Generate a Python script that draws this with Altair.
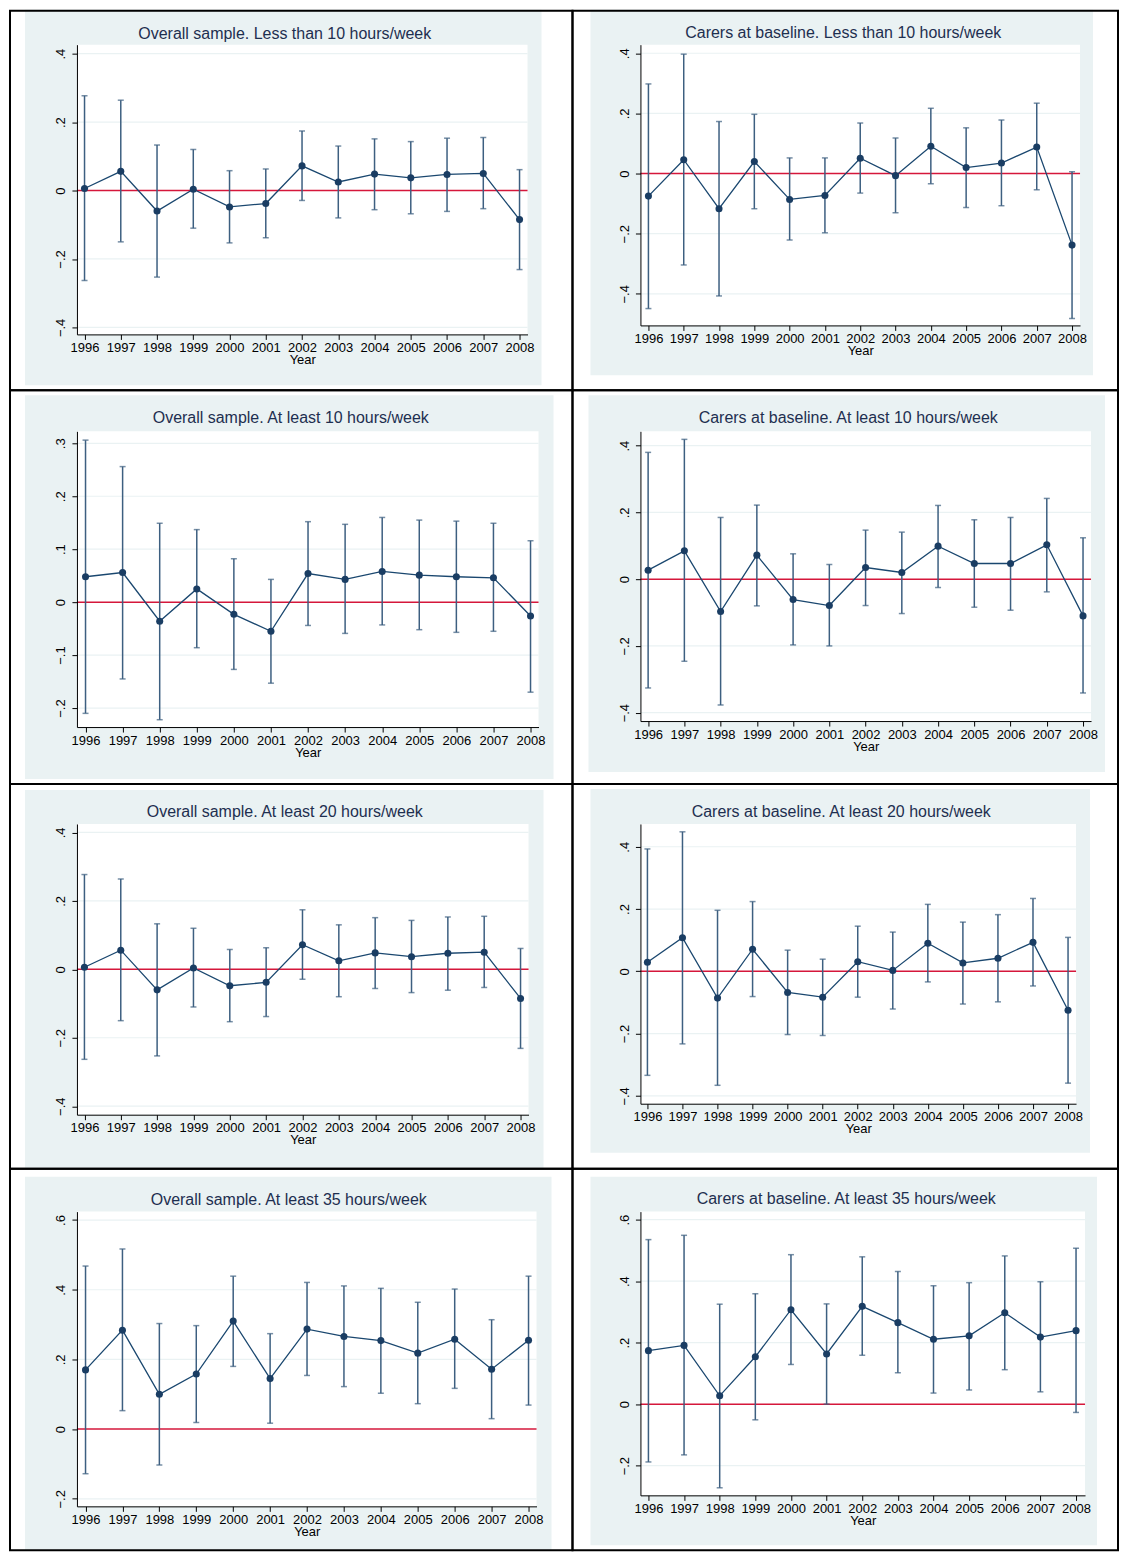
import altair as alt
import pandas as pd

years = list(range(1996, 2009))

# point estimates and 95% bounds
p1_est = [0.006, 0.056, -0.060, 0.004, -0.048, -0.038, 0.072, 0.025, 0.048, 0.037, 0.047, 0.050, -0.085]
p1_hi = [0.277, 0.264, 0.133, 0.120, 0.058, 0.063, 0.174, 0.130, 0.151, 0.143, 0.153, 0.155, 0.061]
p1_lo = [-0.263, -0.150, -0.253, -0.110, -0.153, -0.138, -0.029, -0.080, -0.056, -0.068, -0.061, -0.053, -0.231]

p2_est = [-0.075, 0.046, -0.117, 0.040, -0.086, -0.073, 0.051, -0.007, 0.091, 0.020, 0.035, 0.088, -0.238]
p2_hi = [0.298, 0.397, 0.173, 0.197, 0.052, 0.052, 0.168, 0.118, 0.217, 0.152, 0.178, 0.234, 0.006]
p2_lo = [-0.449, -0.304, -0.407, -0.117, -0.221, -0.197, -0.065, -0.130, -0.034, -0.113, -0.107, -0.054, -0.482]

p3_est = [0.048, 0.056, -0.036, 0.025, -0.023, -0.055, 0.054, 0.043, 0.058, 0.051, 0.048, 0.046, -0.026]
p3_hi = [0.306, 0.256, 0.149, 0.137, 0.082, 0.043, 0.152, 0.147, 0.160, 0.155, 0.153, 0.149, 0.116]
p3_lo = [-0.210, -0.145, -0.222, -0.086, -0.127, -0.153, -0.044, -0.059, -0.043, -0.052, -0.057, -0.055, -0.170]

p4_est = [0.027, 0.085, -0.097, 0.072, -0.061, -0.079, 0.035, 0.020, 0.099, 0.047, 0.047, 0.103, -0.110]
p4_hi = [0.380, 0.419, 0.185, 0.222, 0.076, 0.044, 0.147, 0.141, 0.221, 0.178, 0.185, 0.242, 0.124]
p4_lo = [-0.326, -0.246, -0.377, -0.080, -0.197, -0.200, -0.079, -0.103, -0.025, -0.084, -0.093, -0.038, -0.341]

p5_est = p1_est
p5_hi = p1_hi
p5_lo = p1_lo

p6_est = [0.029, 0.108, -0.086, 0.071, -0.068, -0.083, 0.031, 0.003, 0.090, 0.027, 0.042, 0.093, -0.125]
p6_hi = [0.393, 0.448, 0.196, 0.224, 0.068, 0.039, 0.145, 0.126, 0.215, 0.158, 0.182, 0.234, 0.109]
p6_lo = [-0.334, -0.233, -0.366, -0.081, -0.203, -0.206, -0.083, -0.121, -0.034, -0.105, -0.098, -0.047, -0.359]

p7_est = [0.170, 0.284, 0.100, 0.158, 0.310, 0.145, 0.287, 0.266, 0.254, 0.218, 0.258, 0.172, 0.255]
p7_hi = [0.468, 0.517, 0.303, 0.297, 0.439, 0.274, 0.421, 0.411, 0.404, 0.364, 0.402, 0.314, 0.439]
p7_lo = [-0.128, 0.053, -0.103, 0.019, 0.180, 0.017, 0.154, 0.122, 0.103, 0.073, 0.117, 0.030, 0.069]

p8_est = [0.174, 0.191, 0.027, 0.154, 0.307, 0.163, 0.318, 0.265, 0.211, 0.222, 0.297, 0.218, 0.239]
p8_hi = [0.535, 0.549, 0.325, 0.359, 0.486, 0.326, 0.479, 0.431, 0.385, 0.395, 0.482, 0.398, 0.507]
p8_lo = [-0.188, -0.165, -0.272, -0.051, 0.129, 0.000, 0.159, 0.102, 0.036, 0.046, 0.112, 0.040, -0.027]

ticks4 = [-0.4, -0.2, 0, 0.2, 0.4]
ticks3 = [-0.2, -0.1, 0, 0.1, 0.2, 0.3]
ticks6 = [-0.2, 0, 0.2, 0.4, 0.6]

titles = [
    "Overall sample. Less than 10 hours/week",
    "Carers at baseline. Less than 10 hours/week",
    "Overall sample. At least 10 hours/week",
    "Carers at baseline. At least 10 hours/week",
    "Overall sample. At least 20 hours/week",
    "Carers at baseline. At least 20 hours/week",
    "Overall sample. At least 35 hours/week",
    "Carers at baseline. At least 35 hours/week",
]

# page geometry (pixels): plot box, tick spots, graph region, table cell, title centre
geo = [
    dict(x0=76, y0=43, w=451, h=290, t96=83.6, t08=519, zero=189, ppu=342.5,
         blue=(24, 8, 541, 384), cell=(9, 9, 572, 389), tx=284, ty=32),
    dict(x0=640, y0=43, w=440, h=281, t96=648, t08=1072, zero=172, ppu=301,
         blue=(590, 8, 1093, 374), cell=(572, 9, 1118, 389), tx=843, ty=31),
    dict(x0=76, y0=430, w=462, h=296, t96=84.6, t08=530, zero=601, ppu=530,
         blue=(24, 394, 553, 778), cell=(9, 389, 572, 783), tx=290, ty=417),
    dict(x0=640, y0=430, w=451, h=290, t96=647.7, t08=1083, zero=578, ppu=334,
         blue=(588, 394, 1105, 771), cell=(572, 389, 1118, 783), tx=848, ty=417),
    dict(x0=76, y0=823, w=452, h=291, t96=83.5, t08=520, zero=968.5, ppu=342.5,
         blue=(24, 789, 543, 1167), cell=(9, 783, 572, 1168), tx=284, ty=811),
    dict(x0=640, y0=823, w=436, h=280, t96=647, t08=1068, zero=970.5, ppu=311.7,
         blue=(590, 788, 1090, 1152), cell=(572, 783, 1118, 1168), tx=841, ty=811),
    dict(x0=76, y0=1211, w=460, h=295, t96=84.6, t08=528, zero=1428.7, ppu=348.75,
         blue=(24, 1176, 551, 1550), cell=(9, 1168, 572, 1550), tx=288, ty=1199),
    dict(x0=640, y0=1211, w=445, h=284, t96=648, t08=1076, zero=1403.7, ppu=307.8,
         blue=(590, 1176, 1097, 1545), cell=(572, 1168, 1118, 1550), tx=846, ty=1198),
]

series = [
    (p1_est, p1_hi, p1_lo, ticks4), (p2_est, p2_hi, p2_lo, ticks4),
    (p3_est, p3_hi, p3_lo, ticks3), (p4_est, p4_hi, p4_lo, ticks4),
    (p5_est, p5_hi, p5_lo, ticks4), (p6_est, p6_hi, p6_lo, ticks4),
    (p7_est, p7_hi, p7_lo, ticks6), (p8_est, p8_hi, p8_lo, ticks6),
]

NAVY = "#1a3d63"
LINE = "#1a476f"
BAR = "#3d5f80"
RED = "#d5173b"
BLUE_BG = "#EAF2F3"
FONT = "Liberation Sans"
one = alt.Data(values=[{"a": 1}])


def panel(title, est, hi, lo, ticks, g):
    df = pd.DataFrame({"year": years, "est": est, "hi": hi, "lo": lo})
    step = (g["t08"] - g["t96"]) / 12
    xdom = [1996 - (g["t96"] - g["x0"]) / step, 2008 + (g["x0"] + g["w"] - g["t08"]) / step]
    ydom = [-(g["y0"] + g["h"] - g["zero"]) / g["ppu"], (g["zero"] - g["y0"]) / g["ppu"]]
    xs = alt.Scale(domain=xdom, nice=False, zero=False)
    ys = alt.Scale(domain=ydom, nice=False, zero=False)
    xaxis = alt.Axis(values=years, format="d", title="Year", grid=False, zindex=1,
                     labelFontSize=13, labelColor="black", labelPadding=2, labelFont=FONT,
                     titleFontSize=13, titleFontWeight="normal", titleColor="black",
                     titlePadding=-1, titleFont=FONT, tickSize=5, tickColor="black",
                     domainColor="black", labelOverlap=False)
    yaxis = alt.Axis(values=ticks, title=None, grid=False, zindex=1,
                     labelExpr="replace(format(datum.value, '.1~f'), '0.', '.')",
                     labelAngle=270, labelAlign="center", labelBaseline="bottom",
                     labelFontSize=13, labelColor="black", labelPadding=4, labelFont=FONT,
                     tickSize=5, tickColor="black", domainColor="black")

    def X(f):
        return alt.X(f"{f}:Q", scale=xs, axis=xaxis)

    def Y(f):
        return alt.Y(f"{f}:Q", scale=ys, axis=yaxis)

    def box(b):
        return dict(x=alt.value(b[0] - g["x0"]), x2=alt.value(b[2] - g["x0"]),
                    y=alt.value(b[1] - g["y0"]), y2=alt.value(b[3] - g["y0"]))

    bg = alt.Chart(one).mark_rect(fill=BLUE_BG).encode(**box(g["blue"]))
    cell = alt.Chart(one).mark_rect(fillOpacity=0, stroke="black", strokeWidth=2).encode(**box(g["cell"]))
    white = alt.Chart(one).mark_rect(fill="white").encode(
        x=alt.value(0), x2=alt.value(g["w"]), y=alt.value(0), y2=alt.value(g["h"]))
    grid = alt.Chart(pd.DataFrame({"t": [t for t in ticks if t != 0]})).mark_rule(
        color=BLUE_BG, strokeWidth=1.2).encode(y=Y("t"), x=alt.value(0), x2=alt.value(g["w"]))
    zero = alt.Chart(pd.DataFrame({"z": [0]})).mark_rule(color=RED, strokeWidth=1.5).encode(
        y=Y("z"), x=alt.value(0), x2=alt.value(g["w"]))
    base = alt.Chart(df)
    bars = base.mark_rule(color=BAR, strokeWidth=1.5).encode(x=X("year"), y=Y("lo"), y2="hi:Q")
    cap_hi = base.mark_tick(orient="horizontal", size=6, thickness=1.5, color=BAR).encode(x=X("year"), y=Y("hi"))
    cap_lo = base.mark_tick(orient="horizontal", size=6, thickness=1.5, color=BAR).encode(x=X("year"), y=Y("lo"))
    line = base.mark_line(color=LINE, strokeWidth=1.3).encode(x=X("year"), y=Y("est"))
    pts = base.mark_circle(size=50, opacity=1, color=NAVY).encode(x=X("year"), y=Y("est"))
    ttl = alt.Chart(one).mark_text(fontSize=16, color="#1e2f50", font=FONT, baseline="middle").encode(
        x=alt.value(g["tx"] - g["x0"]), y=alt.value(g["ty"] - g["y0"]), text=alt.value(title))

    return alt.layer(bg, cell, white, grid, zero, bars, cap_hi, cap_lo, line, pts, ttl).properties(
        width=g["w"], height=g["h"])


panels = [panel(titles[i], *series[i], geo[i]) for i in range(8)]

# the table-cell frames are the outermost marks, so "pad" sizing puts the first plot at (76, 43)
chart = alt.concat(*panels, columns=2, spacing={"row": 97, "column": 102}, bounds="flush").properties(
    padding=0,
).configure_view(stroke=None).configure(background="white")

chart.save("out.html", embed_options={"renderer": "svg", "actions": False})
